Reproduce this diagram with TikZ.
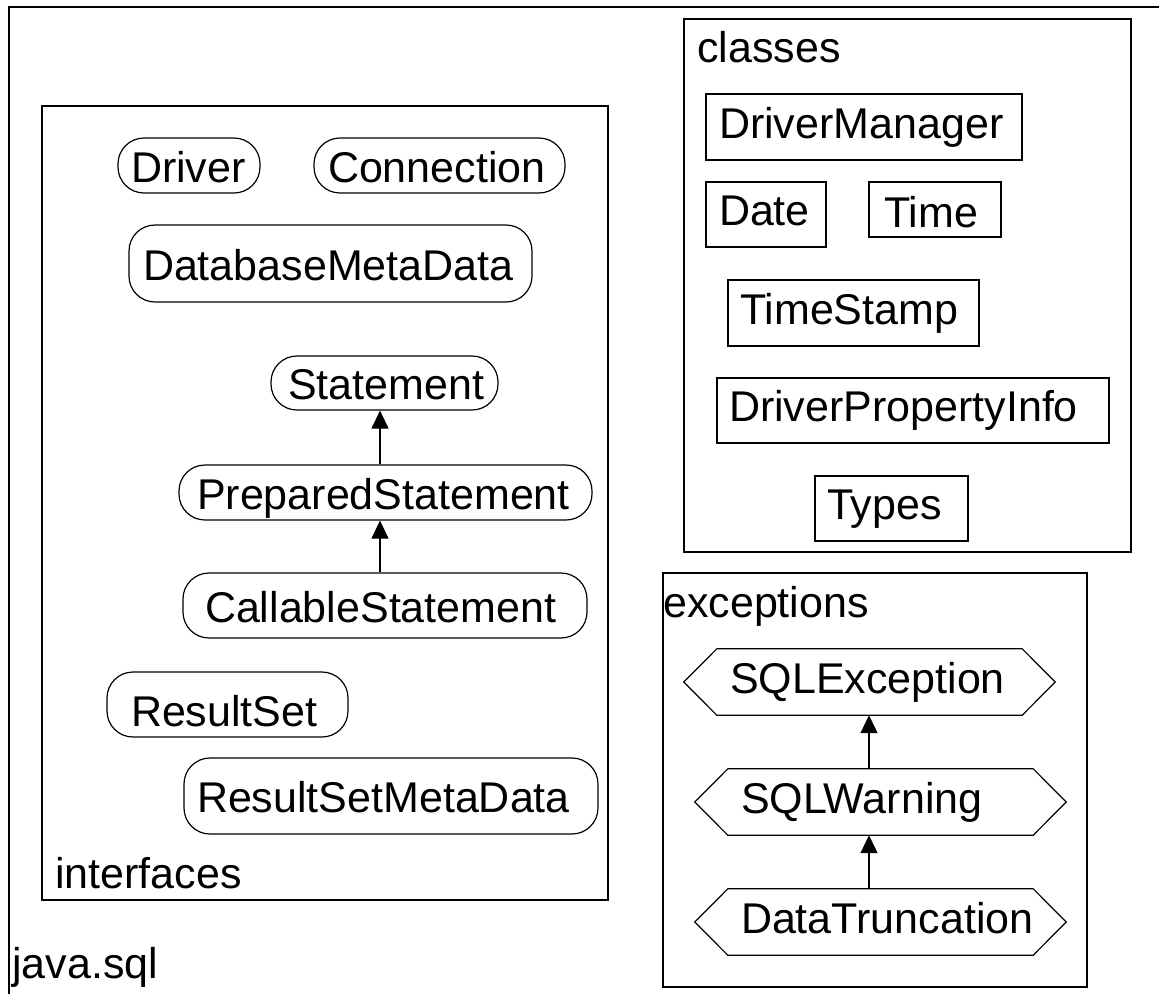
\documentclass[tikz,border=0pt]{standalone}
\usepackage{fontspec}
\setmainfont{Liberation Sans}
\usetikzlibrary{calc,arrows.meta}
\newcommand\hexframe[1]{%
  \draw[hexline] (#1.west) -- ($(#1.north west)+(33,0)$) -- ($(#1.north east)+(-33,0)$)
    -- (#1.east) -- ($(#1.south east)+(-33,0)$) -- ($(#1.south west)+(33,0)$) -- cycle;}
\begin{document}
\begin{tikzpicture}[x=1pt,y=-1pt,
  base/.style={font=\fontsize{43}{50}\selectfont, inner ysep=0pt, align=left},
  iface/.style={base, draw, line width=1.2pt, rounded corners=26pt, text height=33pt, text depth=0pt},
  cls/.style={base, draw, line width=1.2pt, text height=31pt, text depth=9pt},
  exc/.style={base, text height=31pt, text depth=9pt},
  hexline/.style={line width=1.2pt},
  group/.style={draw, line width=1.2pt, inner sep=0pt},
  title/.style={font=\fontsize{43}{50}\selectfont, inner sep=0pt, anchor=base west},
  inh/.style={line width=1.2pt, -{Triangle[length=18pt,width=17pt]}}]
\useasboundingbox (0,0) rectangle (1159,994);
% outer package frame
\draw[line width=1.3pt] (9,994) -- (9,7) -- (1159,7);
\node[title] (pkg) at (12,978) {java.sql};
% groups
\node[group, minimum width=566pt, minimum height=794pt] (ifc) at (325,503) {};
\node[group, minimum width=447pt, minimum height=533pt] (cls) at (907.5,285.5) {};
\node[group, minimum width=424pt, minimum height=414pt] (exs) at (875,780) {};
\node[title] (ifct) at (55,888) {interfaces};
\node[title] (clst) at (697,62) {classes};
\node[title] (exst) at (663,617) {exceptions};
% interfaces
\node[iface, minimum height=55pt, text width=116pt, inner xsep=13pt] (drv) at (189,165.5) {Driver};
\node[iface, minimum height=55pt, text width=223pt, inner xsep=14pt] (con) at (439.5,165.5) {Connection};
\node[iface, minimum height=77pt, text width=375pt, inner xsep=14pt] (dmd) at (330.5,263.5) {DatabaseMetaData};
\node[iface, minimum height=54pt, text width=193pt, inner xsep=17pt] (st) at (384.5,383) {Statement};
\node[iface, minimum height=55pt, text width=377pt, inner xsep=18pt] (ps) at (385.5,492.5) {PreparedStatement};
\node[iface, minimum height=65pt, text width=360pt, inner xsep=22pt] (cs) at (385,605.5) {CallableStatement};
\node[iface, minimum height=65pt, text width=193pt, inner xsep=24pt, text height=43pt] (rs) at (227.5,704.5) {ResultSet};
\node[iface, minimum height=76pt, text width=388pt, inner xsep=13pt] (rsmd) at (391,796) {ResultSetMetaData};
\coordinate (ax1) at (380,0);
\draw[inh] (ps.north -| ax1) -- (st.south -| ax1);
\draw[inh] (cs.north -| ax1) -- (ps.south -| ax1);
% classes
\node[cls, minimum height=66pt, text width=290pt, inner xsep=13pt] (dm) at (864,127) {DriverManager};
\node[cls, minimum height=65pt, text width=94pt, inner xsep=13pt] (date) at (766,214.5) {Date};
\node[cls, minimum height=55pt, text width=102pt, inner xsep=15pt, text height=35pt, text depth=0pt] (time) at (935,209.5) {Time};
\node[cls, minimum height=66pt, text width=227pt, inner xsep=12pt] (ts) at (853.5,313) {TimeStamp};
\node[cls, minimum height=65pt, text width=368pt, inner xsep=12pt] (dpi) at (913,410.5) {DriverPropertyInfo};
\node[cls, minimum height=65pt, text width=129pt, inner xsep=12pt] (typ) at (891.5,508.5) {Types};
% exceptions
\node[exc, minimum height=66pt, text width=279pt, inner xsep=46pt] (se) at (869.5,682) {SQLException};
\node[exc, minimum height=66pt, text width=279pt, inner xsep=46pt] (sw) at (880.5,802) {SQLWarning};
\node[exc, minimum height=66pt, text width=279pt, inner xsep=46pt] (dt) at (880.5,922) {DataTruncation};
\hexframe{se}
\hexframe{sw}
\hexframe{dt}
\coordinate (ax2) at (869,0);
\draw[inh] (sw.north -| ax2) -- (se.south -| ax2);
\draw[inh] (dt.north -| ax2) -- (sw.south -| ax2);
\end{tikzpicture}
\end{document}
